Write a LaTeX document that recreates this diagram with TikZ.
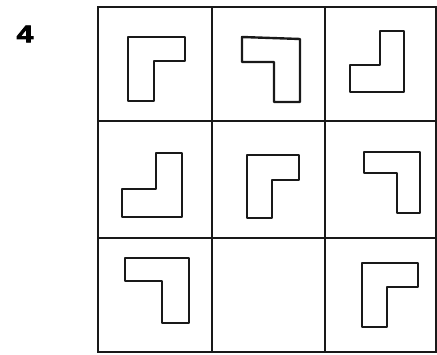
\documentclass[tikz,border=0pt]{standalone}
\usepackage{fontspec}
\setmainfont{Liberation Sans}
\newfontfamily\heavyfont[FakeBold=3]{Liberation Sans Bold}
\begin{document}
\begin{tikzpicture}[x=1pt,y=-1pt,
  gridline/.style={line width=2.2pt,black!90},
  piece/.style={line width=2.4pt,black!90,line join=round}]
\useasboundingbox (0,0) rectangle (437,355);
\fill[white] (0,0) rectangle (437,355);
% label
\node[font=\heavyfont\fontsize{24}{24}\selectfont, inner sep=0pt, xscale=1.25] (num) at (25,34) {4};
% grid
\draw[gridline] (98,7) rectangle (436.5,352);
\draw[gridline] (212,7) -- (212,352);
\draw[gridline] (325,7) -- (325,352);
\draw[gridline] (98,121) -- (436.5,121);
\draw[gridline] (98,238) -- (436.5,238);
% row 1
\draw[piece] (128,37) -- (185,37) -- (185,61) -- (154,61) -- (154,101) -- (128,101) -- cycle;
\draw[piece] (242,37) -- (300,39) -- (300,102) -- (274,102) -- (274,62) -- (242,62) -- cycle;
\draw[piece] (380,31) -- (404,31) -- (404,92) -- (350,92) -- (350,65) -- (380,65) -- cycle;
% row 2
\draw[piece] (156,153) -- (182,153) -- (182,217) -- (122,217) -- (122,189) -- (156,189) -- cycle;
\draw[piece] (247,155) -- (299,155) -- (299,180) -- (272,180) -- (272,218) -- (247,218) -- cycle;
\draw[piece] (364,152) -- (420,152) -- (420,213) -- (397,213) -- (397,173) -- (364,173) -- cycle;
% row 3
\draw[piece] (125,258) -- (189,258) -- (189,323) -- (162,323) -- (162,281) -- (125,281) -- cycle;
\draw[piece] (362,263) -- (418,263) -- (418,287) -- (387,287) -- (387,327) -- (362,327) -- cycle;
\end{tikzpicture}
\end{document}
